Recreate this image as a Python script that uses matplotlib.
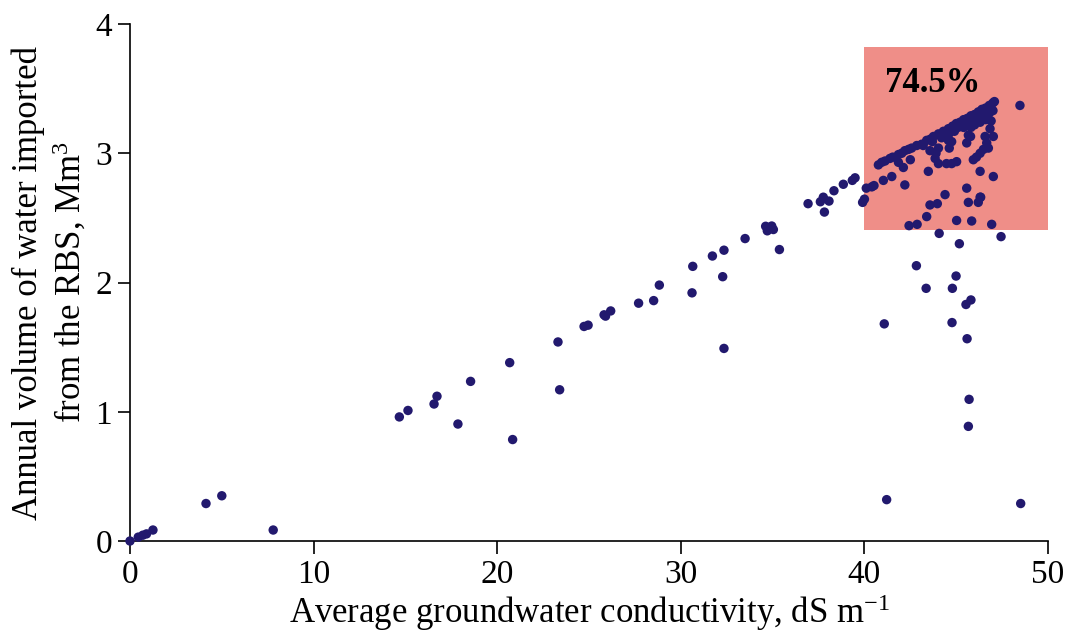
"""Volumen anual importado desde la RBS frente a la conductividad media del agua subterranea."""

import matplotlib

matplotlib.use("Agg")
import matplotlib.pyplot as plt
from matplotlib.patches import Rectangle

# conductividad media (dS m-1) y volumen anual importado (Mm3)
conductividad = [
    0.0, 0.45, 0.7, 0.9, 1.25, 4.14, 5.0, 7.8,
    14.67, 15.14, 16.56, 16.72, 17.86, 18.55, 20.68, 20.84, 23.31, 23.40, 24.73, 24.95,
    25.82, 25.9, 26.18, 27.7, 28.52, 28.83, 30.61, 30.65, 31.72, 32.35, 32.28, 32.35,
    33.5, 34.62, 34.95, 34.71, 35.04, 35.37, 36.93, 37.6, 37.76, 38.07, 37.82, 38.34,
    38.85, 39.34, 39.49, 39.9, 40.0,
    40.1, 40.4, 40.52, 41.03, 41.49, 42.2,
    40.76, 40.94, 41.12, 41.39, 41.54, 41.85, 42.03, 42.2, 42.4, 42.57, 42.85, 43.12,
    43.39, 43.6, 43.76, 44.03, 44.3, 44.57, 44.8, 45.0, 45.2, 45.4, 45.6, 45.8, 46.0,
    46.2, 46.4, 46.6, 46.8, 47.0, 47.08,
    45.1, 45.3, 45.6, 45.9, 46.2, 46.5, 46.8, 47.0, 46.0, 46.6, 46.9, 45.8,
    43.2, 43.7, 44.2, 44.6, 44.9, 45.4, 46.3, 46.7,
    41.85, 42.12, 42.5, 43.57, 44.03, 43.48, 43.85, 44.03, 43.9, 44.57, 44.62, 44.47,
    44.75, 45.02, 44.75, 44.66, 45.66, 45.57, 45.78, 46.84, 47.02, 46.57, 46.66, 46.48,
    46.75, 46.3, 46.1, 45.93, 46.3, 47.02, 45.57, 46.3, 44.39,
    43.57, 43.97, 43.39, 42.43, 42.87, 45.02, 45.84, 46.93, 45.66, 46.2, 46.33, 48.47,
    44.07, 45.17, 47.44, 42.83, 44.99, 43.36, 44.79, 45.53, 45.8, 41.08, 44.77, 45.59,
    45.70, 45.66, 41.21, 48.51,
]
volumen = [
    0.0, 0.03, 0.045, 0.055, 0.085, 0.29, 0.35, 0.085,
    0.96, 1.01, 1.06, 1.12, 0.905, 1.235, 1.38, 0.785, 1.54, 1.17, 1.66, 1.67,
    1.75, 1.74, 1.78, 1.84, 1.86, 1.98, 1.92, 2.125, 2.205, 2.25, 2.045, 1.49,
    2.34, 2.435, 2.437, 2.40, 2.41, 2.255, 2.61, 2.625, 2.66, 2.63, 2.545, 2.71,
    2.76, 2.79, 2.81, 2.62, 2.645,
    2.73, 2.74, 2.75, 2.79, 2.82, 2.755,
    2.91, 2.93, 2.94, 2.96, 2.97, 2.99, 3.0, 3.02, 3.03, 3.04, 3.06, 3.07,
    3.10, 3.11, 3.13, 3.15, 3.17, 3.19, 3.21, 3.23, 3.24, 3.26, 3.27, 3.29, 3.30,
    3.32, 3.34, 3.35, 3.37, 3.39, 3.40,
    3.20, 3.21, 3.22, 3.25, 3.27, 3.29, 3.31, 3.33, 3.22, 3.26, 3.25, 3.20,
    3.06, 3.09, 3.12, 3.15, 3.17, 3.20, 3.24, 3.27,
    2.93, 2.89, 2.95, 3.02, 3.04, 2.86, 2.96, 2.92, 3.0, 3.10, 3.04, 2.92,
    2.92, 2.935, 3.09, 3.18, 3.14, 3.08, 3.13, 3.19, 3.13, 3.13, 3.08, 3.03,
    3.04, 3.0, 2.97, 2.95, 2.86, 2.82, 2.73, 2.66, 2.68,
    2.60, 2.61, 2.51, 2.44, 2.45, 2.48, 2.476, 2.45, 2.62, 2.62, 2.66, 3.37,
    2.38, 2.30, 2.355, 2.13, 2.05, 1.955, 1.955, 1.83, 1.865, 1.68, 1.69, 1.565,
    1.096, 0.887, 0.32, 0.29,
]

# zona resaltada y su porcentaje
zona_x = (40, 50)
zona_y = (2.41, 3.82)
etiqueta_zona = "74.5%"

plt.rcParams["font.family"] = ["Liberation Serif", "DejaVu Serif"]
plt.rcParams["mathtext.fontset"] = "custom"
plt.rcParams["mathtext.rm"] = "Liberation Serif"
plt.rcParams["mathtext.it"] = "Liberation Serif:italic"

fig = plt.figure(figsize=(10.69, 6.37), dpi=100)
ax = fig.add_axes([0.1216, 0.1507, 0.8588, 0.8116])

ax.add_patch(Rectangle((zona_x[0], zona_y[0]), zona_x[1] - zona_x[0], zona_y[1] - zona_y[0],
                       facecolor="#ef8e88", edgecolor="none", zorder=1))
ax.scatter(conductividad, volumen, s=46, color="#22196e", edgecolors="none", zorder=3, clip_on=False)
ax.text(41.1, 3.54, etiqueta_zona, fontsize=25, fontweight="bold", ha="left", va="center", zorder=4)

ax.set_xlim(0, 50)
ax.set_ylim(0, 4)
ax.set_xticks([0, 10, 20, 30, 40, 50])
ax.set_yticks([0, 1, 2, 3, 4])
ax.spines["top"].set_visible(False)
ax.spines["right"].set_visible(False)
for lado in ("left", "bottom"):
    ax.spines[lado].set_linewidth(1.2)
ax.tick_params(direction="out", length=9, width=1.2, labelsize=24, pad=4)

ax.set_xlabel("Average groundwater conductivity, dS m$^{-1}$", fontsize=25, labelpad=2)
ax.set_ylabel("Annual volume of water imported\nfrom the RBS, Mm$^3$", fontsize=25, labelpad=5)

fig.savefig("out.png", dpi=100)
